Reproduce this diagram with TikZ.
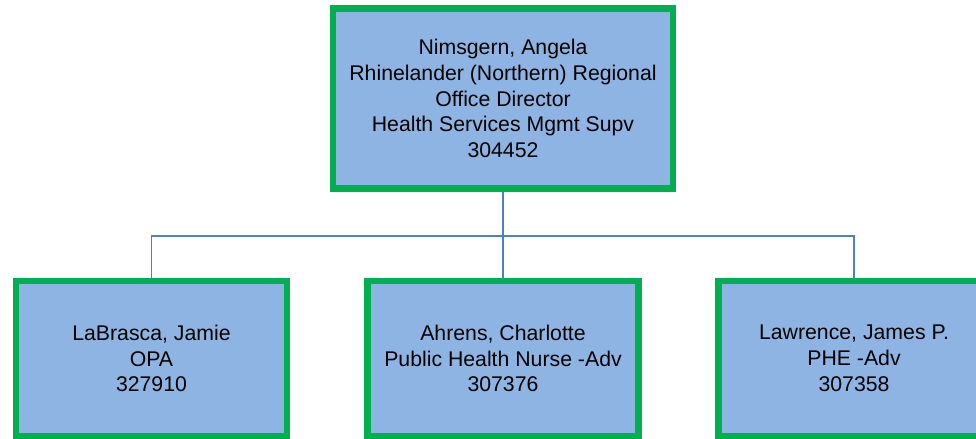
\documentclass[tikz,border=0pt]{standalone}
\usepackage{fontspec}
\setmainfont{Liberation Sans}
\definecolor{boxblue}{HTML}{8EB4E3}
\definecolor{boxgreen}{HTML}{00B050}
\definecolor{linkblue}{HTML}{4F81BD}
\begin{document}
\begin{tikzpicture}[x=0.02cm,y=-0.02cm,
  person/.style={draw=boxgreen,line width=3.7pt,fill=boxblue,align=center,
    font=\fontsize{12.1}{14.7}\selectfont,inner sep=0pt},
  boss/.style={person,minimum width=6.8cm,minimum height=3.6cm},
  staff/.style={person,minimum width=5.42cm,minimum height=3.11cm},
  link/.style={draw=linkblue,line width=0.75pt}]
\useasboundingbox (0,0) rectangle (976,439);
\clip (0,0) rectangle (976,439);
\node[boss] (nimsgern) at (503,98.5) {Nimsgern, Angela\\Rhinelander (Northern) Regional\\Office Director\\Health Services Mgmt Supv\\304452};
\node[staff] (labrasca) at (151.5,358.5) {LaBrasca, Jamie\\OPA\\327910};
\node[staff] (ahrens) at (503,358.5) {Ahrens, Charlotte\\Public Health Nurse -Adv\\307376};
\node[staff] (lawrence) at (854,358.5) {Lawrence, James P.\\PHE -Adv\\307358};
\coordinate (bus) at (503,236);
\draw[link] (nimsgern.south) -- (bus);
\draw[link] (labrasca.north) |- (bus) -| (lawrence.north);
\draw[link] (bus) -- (ahrens.north);
\end{tikzpicture}
\end{document}
